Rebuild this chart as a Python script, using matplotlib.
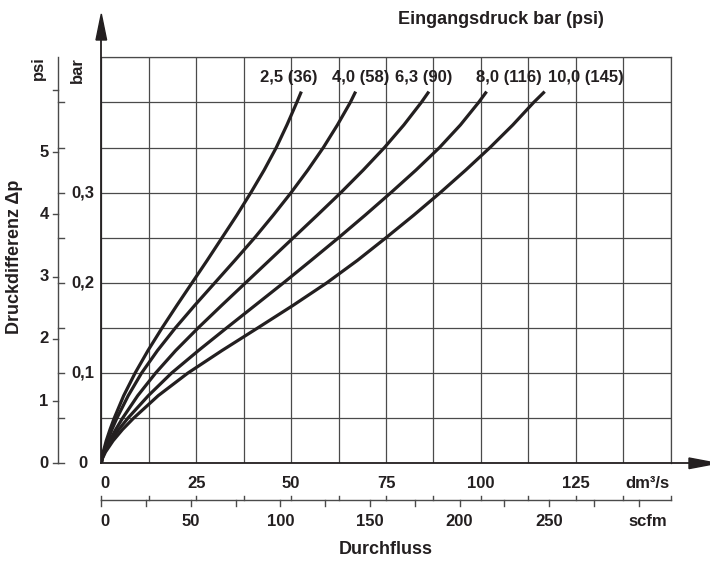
import matplotlib.pyplot as plt
import matplotlib.transforms as mtransforms
from matplotlib.patches import Polygon
from matplotlib.lines import Line2D
import numpy as np

# pressure drop (bar) at which the flow of every curve was read
dp_bar = [0, 0.005, 0.0125, 0.025, 0.0375, 0.05, 0.075, 0.1, 0.125, 0.15, 0.175, 0.2,
          0.225, 0.25, 0.275, 0.3, 0.325, 0.35, 0.375, 0.4, 0.412]

# flow in dm3/s for each inlet pressure
flow_2_5 = [0, 0.12, 0.5, 1.3, 2.3, 3.4, 5.9, 8.9, 12.3, 16.0, 19.9, 23.9,
            27.9, 31.8, 35.7, 39.4, 42.9, 46.1, 48.9, 51.5, 52.7]
flow_4_0 = [0, 0.15, 0.6, 1.7, 2.8, 4.1, 7.1, 10.6, 14.8, 19.5, 24.6, 29.9,
            35.2, 40.4, 45.3, 50.0, 54.4, 58.5, 62.2, 65.6, 67.0]
flow_6_3 = [0, 0.18, 0.8, 2.2, 3.8, 5.6, 9.6, 14.3, 19.6, 25.5, 31.7, 38.0,
            44.3, 50.6, 56.9, 63.1, 69.0, 74.6, 79.7, 84.3, 86.3]
flow_8_0 = [0, 0.2, 0.9, 2.6, 4.6, 7.0, 12.4, 18.5, 25.6, 33.0, 40.5, 48.0,
            55.3, 62.5, 69.5, 76.3, 82.9, 89.1, 94.6, 99.4, 101.5]
flow_10_0 = [0, 0.25, 1.1, 3.1, 5.6, 8.5, 15.0, 22.8, 31.8, 41.2, 50.5, 59.4,
             67.5, 75.0, 82.3, 89.3, 96.0, 102.4, 108.4, 113.9, 116.8]

curve_labels = ["2,5 (36)", "4,0 (58)", "6,3 (90)", "8,0 (116)", "10,0 (145)"]

flow_ticks = [0, 25, 50, 75, 100, 125]
scfm_ticks = [0, 50, 100, 150, 200, 250]
bar_ticks = [0, 0.1, 0.2, 0.3]
psi_ticks = [0, 1, 2, 3, 4, 5]

PSI_TO_BAR = 0.0689476
SCFM_TO_DM3S = 0.471947

plt.rcParams["font.family"] = ["Liberation Sans", "DejaVu Sans"]
plt.rcParams["font.weight"] = "bold"
INK = "#231f20"
GRID = "#4a4a4a"
FS = 12
FS_TITLE = 13

W, H = 710, 561
fig = plt.figure(figsize=(W / 100, H / 100), dpi=100)

# plot area in pixels
px0, px1 = 101.3, 670.7
py0, py1 = 463.3, 57.3


def fx(px):
    return px / W


def fy(py):
    return 1 - py / H


ax = fig.add_axes([fx(px0), fy(py0), (px1 - px0) / W, (py0 - py1) / H])
ax.set_xlim(0, 150)
ax.set_ylim(0, 0.45)
ax.set_xticks(np.arange(0, 150.1, 12.5))
ax.set_yticks(np.arange(0, 0.451, 0.05))
ax.grid(True, color=GRID, lw=0.9)
ax.tick_params(length=0, labelbottom=False, labelleft=False)
for side in ["left", "bottom"]:
    ax.spines[side].set_visible(False)
for side in ["top", "right"]:
    ax.spines[side].set_color(GRID)
    ax.spines[side].set_linewidth(0.9)

curves = [flow_2_5, flow_4_0, flow_6_3, flow_8_0, flow_10_0]
for flow in curves:
    ax.plot(flow, dp_bar, color=INK, lw=2.3, solid_capstyle="butt",
            solid_joinstyle="round", zorder=3)

# inlet pressure labels above the curves
label_x = [49.4, 68.4, 85.0, 107.4, 127.7]
for lx, lab in zip(label_x, curve_labels):
    ax.text(lx, 0.4276, lab, ha="center", va="center", fontsize=FS, color=INK)

# main axes with arrows
fig.add_artist(Line2D([fx(px0), fx(px0)], [fy(py0), fy(40)], color=INK, lw=1.3))
fig.add_artist(Polygon([[fx(px0), fy(14)], [fx(px0 - 5.3), fy(40)], [fx(px0 + 5.3), fy(40)]],
                       closed=True, color=INK, transform=fig.transFigure))
fig.add_artist(Line2D([fx(px0), fx(690)], [fy(py0), fy(py0)], color=INK, lw=1.3))
fig.add_artist(Polygon([[fx(717), fy(py0)], [fx(689), fy(py0 - 5.3)], [fx(689), fy(py0 + 5.3)]],
                       closed=True, color=INK, transform=fig.transFigure))

# dm3/s tick labels
tx_flow = mtransforms.blended_transform_factory(ax.transData, fig.transFigure)
for t in flow_ticks:
    fig.text(t + (1 if t == 0 else 0), fy(484), str(t), transform=tx_flow,
             ha="center", va="center", fontsize=FS, color=INK)
fig.text(143.8, fy(484), "dm³/s", transform=tx_flow, ha="center", va="center",
         fontsize=FS, color=INK)

# scfm scale
sy = 500
fig.add_artist(Line2D([fx(px0), fx(px1)], [fy(sy), fy(sy)], color=GRID, lw=1.0))
for v in np.arange(0, 150.1, 12.5):
    fig.add_artist(Line2D([v, v], [fy(sy), fy(sy - 4.5)], color=GRID, lw=1.0,
                          transform=tx_flow))
for s in np.arange(0, 300.1, 25):
    v = s * SCFM_TO_DM3S
    fig.add_artist(Line2D([v, v], [fy(sy), fy(sy + 6)], color=GRID, lw=1.0,
                          transform=tx_flow))
for s in scfm_ticks:
    fig.text(s * SCFM_TO_DM3S + (1 if s == 0 else 0), fy(521), str(s), transform=tx_flow,
             ha="center", va="center", fontsize=FS, color=INK)
fig.text(144.0, fy(521), "scfm", transform=tx_flow, ha="center", va="center",
         fontsize=FS, color=INK)
fig.text(fx(386), fy(549), "Durchfluss", ha="center", va="center",
         fontsize=FS_TITLE, color=INK)

# psi / bar scale on the left
ty = mtransforms.blended_transform_factory(fig.transFigure, ax.transData)
lx = 58.3
fig.add_artist(Line2D([fx(lx), fx(lx)], [0, 0.45], color=GRID, lw=1.0, transform=ty))
for b in np.arange(0, 0.4001, 0.05):
    fig.add_artist(Line2D([fx(lx), fx(lx + 5.5)], [b, b], color=GRID, lw=1.0,
                          transform=ty))
for p in range(0, 7):
    fig.add_artist(Line2D([fx(lx - 5.5), fx(lx)], [p * PSI_TO_BAR] * 2, color=GRID,
                          lw=1.0, transform=ty))
for b in bar_ticks:
    fig.text(fx(83), b, f"{b:.1f}".replace(".", ",") if b else "0", transform=ty,
             ha="center", va="center", fontsize=FS, color=INK)
for p in psi_ticks:
    fig.text(fx(44), p * PSI_TO_BAR, str(p), transform=ty,
             ha="center", va="center", fontsize=FS, color=INK)
fig.text(fx(38), fy(68), "psi", rotation=90, ha="center", va="center", fontsize=FS, color=INK)
fig.text(fx(77.5), fy(70), "bar", rotation=90, ha="center", va="center", fontsize=FS, color=INK)
fig.text(fx(15), fy(257), "Druckdifferenz Δp", rotation=90, ha="center", va="center",
         fontsize=FS_TITLE, color=INK)

fig.text(fx(501), fy(19), "Eingangsdruck bar (psi)", ha="center", va="center",
         fontsize=FS_TITLE, color=INK)

fig.savefig("out.png", dpi=100)
